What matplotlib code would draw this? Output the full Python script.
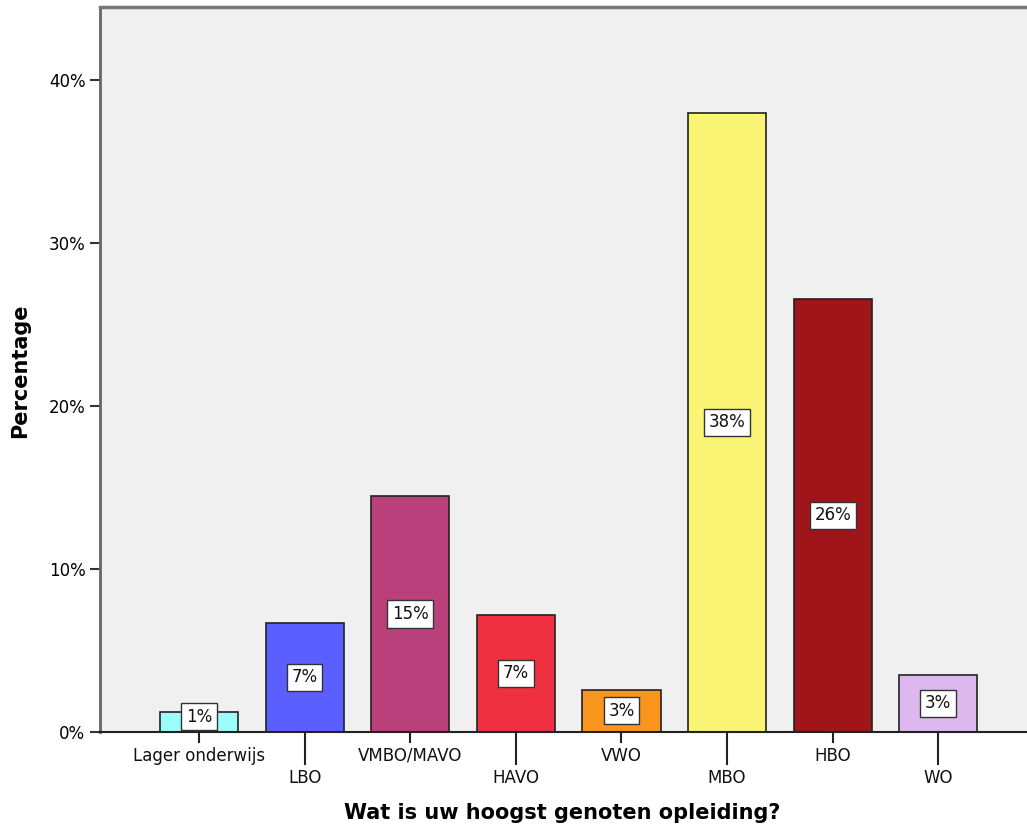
import matplotlib
matplotlib.use("Agg")
import matplotlib.pyplot as plt

# Data
categories = ["Lager onderwijs", "LBO", "VMBO/MAVO", "HAVO", "VWO", "MBO", "HBO", "WO"]
percentages = [1.2, 6.7, 14.5, 7.2, 2.6, 38.0, 26.6, 3.5]
bar_labels = ["1%", "7%", "15%", "7%", "3%", "38%", "26%", "3%"]
colors = ["#9CFCFC", "#5B5FFF", "#B9407B", "#EE3040", "#F7951C",
          "#FAF574", "#A0151A", "#DDB8EE"]
yticks = [0, 10, 20, 30, 40]

fig = plt.figure(figsize=(10.27, 8.32), dpi=100)
ax = fig.add_axes([100 / 1027, 100 / 832, 927 / 1027, 725 / 832])
ax.set_facecolor("#F0F0F0")

x = list(range(len(categories)))
ax.bar(x, percentages, width=0.74, color=colors, edgecolor="#222222", linewidth=1.2, zorder=2)

# percentage labels in white boxes, halfway up each bar
for xi, v, lab in zip(x, percentages, bar_labels):
    ypos = max(v / 2, 0.95)
    ax.text(xi, ypos, lab, ha="center", va="center", fontsize=12, color="#111111", zorder=3,
            bbox=dict(boxstyle="square,pad=0.28", facecolor="white", edgecolor="#333333", linewidth=1))

ax.set_xlim(-0.9375, 7.84)
ax.set_ylim(0, 44.5)

ax.set_yticks(yticks)
ax.set_yticklabels([f"{t}%" for t in yticks], fontsize=12)
ax.tick_params(axis="y", length=7, width=1.5, color="#333333")

# staggered category labels (short / long ticks)
ax.set_xticks(x)
ax.set_xticklabels([])
ax.tick_params(axis="x", length=0)
for xi, name in zip(x, categories):
    if xi % 2 == 0:
        ax.plot([xi, xi], [0, -0.6], color="#222222", lw=1.5, clip_on=False)
        ax.text(xi, -0.9, name, ha="center", va="top", fontsize=12, color="#111111")
    else:
        ax.plot([xi, xi], [0, -1.95], color="#222222", lw=1.5, clip_on=False)
        ax.text(xi, -2.3, name, ha="center", va="top", fontsize=12, color="#111111")

ax.spines["right"].set_visible(False)
ax.spines["left"].set_color("#666666")
ax.spines["left"].set_linewidth(2)
ax.spines["top"].set_color("#777777")
ax.spines["top"].set_linewidth(2.5)
ax.spines["bottom"].set_color("#222222")
ax.spines["bottom"].set_linewidth(1.5)

fig.text(20 / 1027, 1 - 371 / 832, "Percentage", rotation=90, ha="center", va="center",
         fontsize=15, fontweight="bold")
fig.text(562 / 1027, 1 - 813 / 832, "Wat is uw hoogst genoten opleiding?",
         ha="center", va="center", fontsize=15, fontweight="bold")

fig.savefig("out.png", dpi=100)
